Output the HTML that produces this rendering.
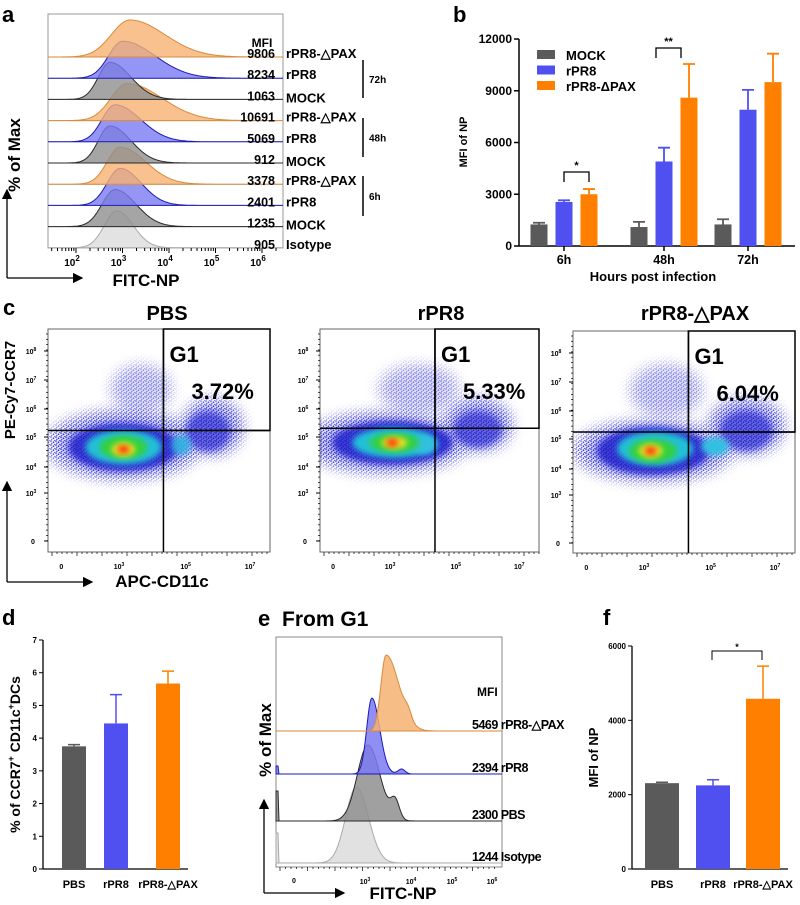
<!DOCTYPE html>
<html><head><meta charset="utf-8"><style>
html,body{margin:0;padding:0;background:#fff;}
svg{display:block;font-family:"Liberation Sans",Arial,sans-serif;}
text{font-weight:bold;}
</style></head><body>
<svg id="fig" width="800" height="905" viewBox="0 0 800 905">
<defs>
<filter id="blur" x="-30%" y="-30%" width="160%" height="160%"><feGaussianBlur stdDeviation="6"/></filter>
<filter id="blur2" x="-30%" y="-30%" width="160%" height="160%"><feGaussianBlur stdDeviation="3"/></filter>
<marker id="arr" markerWidth="8" markerHeight="8" refX="7" refY="4" orient="auto"><path d="M0,0 L8,4 L0,8 z" fill="#000"/></marker>
<pattern id="dots" width="5" height="4" patternUnits="userSpaceOnUse">
<circle cx="1" cy="1" r="0.8" fill="#1010c0"/><circle cx="3.5" cy="2.2" r="0.8" fill="#2828e0"/><circle cx="1.8" cy="3.4" r="0.6" fill="#1a1ad0"/><circle cx="4.4" cy="0.4" r="0.5" fill="#2020c0"/>
</pattern>
</defs>
<g id="pa"></g>
<g id="pb"></g>
<g id="pc"></g>
<g id="pd"></g>
<g id="pe"></g>
<g id="pf"></g>
</svg>
<script>
// ---------- Panel a data ----------
const aMFI = ["9806","8234","1063","10691","5069","912","3378","2401","1235","905"];
const aNames = ["rPR8-△PAX","rPR8","MOCK","rPR8-△PAX","rPR8","MOCK","rPR8-△PAX","rPR8","MOCK","Isotype"];
const aGroup = ["o","b","g","o","b","g","o","b","g","i"];
const aPeakLog = [3.16,3.0,2.73,3.1,2.84,2.73,2.95,2.95,2.84,2.88];
const aSigL = [0.4,0.3,0.25,0.35,0.28,0.25,0.28,0.28,0.28,0.27];
const aSigR = [0.75,0.7,0.45,0.75,0.55,0.45,0.55,0.45,0.45,0.35];
const aTicks = ["2","3","4","5","6"];
// ---------- Panel b data ----------
const bGroups = ["6h","48h","72h"];
const bSeries = ["MOCK","rPR8","rPR8-ΔPAX"];
const bMock = [1250,1100,1250];
const bMockErr = [1350,1400,1550];
const bPR8 = [2550,4900,7900];
const bPR8Err = [2650,5700,9050];
const bPAX = [3000,8600,9500];
const bPAXErr = [3300,10550,11150];
const bTicks = [0,3000,6000,9000,12000];
// ---------- Panel c data ----------
const cTitles = ["PBS","rPR8","rPR8-△PAX"];
const cPercent = ["3.72%","5.33%","6.04%"];
// ---------- Panel d data ----------
const dCats = ["PBS","rPR8","rPR8-△PAX"];
const dVals = [3.75,4.45,5.67];
const dErr = [3.8,5.33,6.05];
const dTicks = [0,1,2,3,4,5,6,7];
// ---------- Panel e data ----------
const eMFI = ["5469","2394","2300","1244"];
const eNames = ["rPR8-△PAX","rPR8","PBS","Isotype"];
const eGroup = ["o","b","g","i"];
const ePeakLog = [3.49,3.16,3.07,2.8];
const eSigL = [0.12,0.12,0.25,0.25];
const eSigR = [0.3,0.18,0.28,0.28];
// ---------- Panel f data ----------
const fCats = ["PBS","rPR8","rPR8-△PAX"];
const fVals = [2310,2250,4580];
const fErr = [2335,2400,5460];
const fTicks = [0,2000,4000,6000];

const NS="http://www.w3.org/2000/svg";
const COL={o:"#ff8000",b:"#5050f0",g:"#5a5a5a"};
const HF={o:["#f6b272","#d98a3a"],b:["#7a7af2","#1a1ab8"],g:["#8f8f8f","#2a2a2a"],i:["#dcdcdc","#aaaaaa"]};
function el(p,tag,a,txt){const e=document.createElementNS(NS,tag);for(const k in a)e.setAttribute(k,a[k]);if(txt!==undefined)e.textContent=txt;p.appendChild(e);return e;}

// ===== Panel a =====
(function(){
const g=document.getElementById('pa');
const L=48,R=283,T=14,B=248;
const xa=l=>76+(l-2)*46.5;
const base=i=>57+i*21.2;
let t=el(g,'text',{x:2,y:22,'font-size':22},'a');

let fr=el(g,'rect',{x:L,y:T,width:R-L,height:B-T,fill:'none',stroke:'#999','stroke-width':1});

for(let i=aMFI.length-1;i>=0;i--){
  const y0=base(i),c=HF[aGroup[i]];
  let d='M'+L+','+y0;
  for(let x=L;x<=R;x+=1){const l=2+(x-76)/46.5;const s=l<aPeakLog[i]?aSigL[i]:aSigR[i];const h=37*Math.exp(-Math.pow((l-aPeakLog[i])/s,2)/2);d+=' L'+x+','+(y0-h).toFixed(1);}
  d+=' L'+R+','+y0+' Z';
  el(g,'line',{x1:L,x2:R,y1:y0,y2:y0,stroke:'#bbb','stroke-width':1});
  let p=el(g,'path',{d:d,fill:c[0],'fill-opacity':0.8,stroke:c[1],'stroke-width':1});
  
  
}
el(g,'text',{x:262,y:47,'font-size':12,'text-anchor':'middle'},'MFI');
for(let i=0;i<aMFI.length;i++){
  let a=el(g,'text',{x:275,y:base(i)+1,'font-size':12.5,'text-anchor':'end'},aMFI[i]);
  
  let b=el(g,'text',{x:286,y:base(i)+(i%3===2?3:1),'font-size':13},aNames[i]);
  
}
[[60,98,'72h'],[118,157,'48h'],[176,216,'6h']].forEach(r=>{
  el(g,'line',{x1:363,x2:363,y1:r[0],y2:r[1],stroke:'#000','stroke-width':1.5});
  let tt=el(g,'text',{x:369,y:(r[0]+r[1])/2+4,'font-size':10},r[2]);
  
});
for(let d=1;d<=6;d++){for(let k=1;k<10;k++){const x=xa(d+Math.log10(k));if(x<L||x>R)continue;el(g,'line',{x1:x,x2:x,y1:B,y2:B+(k===1?5:3),stroke:'#000','stroke-width':1});}}
aTicks.forEach(s=>{const x=xa(+s);let tt=el(g,'text',{x:x-4,y:266,'font-size':10,'text-anchor':'middle'},'10');el(tt,'tspan',{dy:-5,'font-size':8},s);});
let xt=el(g,'text',{x:146,y:286,'font-size':17,'text-anchor':'middle'},'FITC-NP');

let yt=el(g,'text',{x:0,y:0,'font-size':17,'text-anchor':'middle',transform:'translate(20,155) rotate(-90)'},'% of Max');

el(g,'line',{x1:7,y1:278,x2:7,y2:190,stroke:'#000','stroke-width':1.3,'marker-end':'url(#arr)'});
el(g,'line',{x1:7,y1:278,x2:82,y2:278,stroke:'#000','stroke-width':1.3,'marker-end':'url(#arr)'});
})();

// ===== Panel b =====
(function(){
const g=document.getElementById('pb');
const X0=519,Y0=246,YT=39;
const y=v=>Y0-v/12000*(Y0-YT);
const centers=[564,664,748];
el(g,'text',{x:453,y:22,'font-size':22},'b');
el(g,'line',{x1:X0,x2:X0,y1:YT,y2:Y0,stroke:'#000','stroke-width':1.5});
el(g,'line',{x1:X0,x2:795,y1:Y0,y2:Y0,stroke:'#000','stroke-width':1.5});
bTicks.forEach(v=>{el(g,'line',{x1:X0-5,x2:X0,y1:y(v),y2:y(v),stroke:'#000','stroke-width':1.5});
  let t=el(g,'text',{x:X0-7,y:y(v)+4,'font-size':12,'text-anchor':'end'},String(v));});
const series=[[bMock,bMockErr,'g'],[bPR8,bPR8Err,'b'],[bPAX,bPAXErr,'o']];
series.forEach((s,si)=>{s[0].forEach((v,gi)=>{
  const cx=centers[gi]+(si-1)*25;
  const er=el(g,'path',{d:`M${cx},${y(v)} V${y(s[1][gi])} M${cx-6},${y(s[1][gi])} H${cx+6}`,stroke:COL[s[2]],'stroke-width':1.8,fill:'none'});
  
  const r=el(g,'rect',{x:cx-8.5,y:y(v),width:17,height:Y0-y(v),fill:COL[s[2]]});
  
});});
bGroups.forEach((s,i)=>{el(g,'line',{x1:centers[i],x2:centers[i],y1:Y0,y2:Y0+5,stroke:'#000','stroke-width':1.5});
  let t=el(g,'text',{x:centers[i],y:264,'font-size':12.5,'text-anchor':'middle'},s);});
let xt=el(g,'text',{x:653,y:281,'font-size':13,'text-anchor':'middle'},'Hours post infection');
let yt=el(g,'text',{x:0,y:0,'font-size':11,'text-anchor':'middle',transform:'translate(467,142) rotate(-90)'},'MFI of NP');
['g','b','o'].forEach((c,i)=>{const ly=55+i*15.5;
  let r=el(g,'rect',{x:537,y:ly-5,width:18,height:9,fill:COL[c]});
  let t=el(g,'text',{x:566,y:ly+5,'font-size':13},bSeries[i]);});
function sig(x1,x2,yy,lab){el(g,'path',{d:`M${x1},${yy+10} V${yy} H${x2} V${yy+10}`,stroke:'#000','stroke-width':1.3,fill:'none'});el(g,'text',{x:(x1+x2)/2,y:yy-3,'font-size':11,'text-anchor':'middle'},lab);}
sig(564,589,172,'*');sig(656,681,48,'**');
})();

// ===== Panel c =====
(function(){
const g=document.getElementById('pc');
const defs=document.querySelector('defs');
el(g,'text',{x:3,y:315,'font-size':22},'c');
const frames=[[48,329,222,223,0.52,0.455,167],[320,329,219,223,0.525,0.445,441],[573,331,222,222,0.52,0.455,695]];
// dotted (sparse) regions: [relx, rely, rx, ry, opacity]
const sparse=[
 [[0.34,0.52,80,36,1],[0.74,0.44,32,30,1],[0.42,0.27,32,26,0.6]],
 [[0.30,0.51,85,32,1],[0.72,0.43,36,28,1],[0.45,0.27,42,26,0.6]],
 [[0.36,0.54,82,32,1],[0.78,0.43,40,30,1],[0.42,0.27,38,28,0.6]]];
// dense core: [relx, rely, rx, ry, color, opacity]
const cores=[
 [[0.34,0.53,55,24,'#1515c8',0.8],[0.72,0.46,22,20,'#1515c8',0.55],[0.34,0.53,38,17,'#20c0d8',1],[0.6,0.52,10,10,'#30b0e0',0.9],[0.34,0.53,24,12,'#30d040',1],[0.34,0.54,12,7,'#f0e020',1],[0.34,0.54,6,4,'#ff3010',1]],
 [[0.33,0.51,60,22,'#1515c8',0.8],[0.72,0.45,24,18,'#1515c8',0.55],[0.34,0.51,42,15,'#20c0d8',1],[0.48,0.52,12,9,'#30c0e0',1],[0.34,0.51,25,10,'#30d040',1],[0.34,0.51,13,6,'#f0e020',1],[0.33,0.51,6,4,'#ff3010',1]],
 [[0.36,0.54,56,24,'#1515c8',0.8],[0.78,0.45,26,20,'#1515c8',0.55],[0.37,0.53,38,17,'#20c0d8',1],[0.64,0.52,14,9,'#30c0e0',1],[0.36,0.54,24,12,'#30d040',1],[0.35,0.54,12,7,'#f0e020',1],[0.35,0.54,6,4,'#ff3010',1]]];
frames.forEach((f,i)=>{
  const [x0,y0,w,h,gx,gy,tc]=f;
  const sub=el(g,'g',{});
  let t=el(sub,'text',{x:tc,y:320,'font-size':20,'text-anchor':'middle'},cTitles[i]);
  const cid='clip'+i;const cp=el(defs,'clipPath',{id:cid});el(cp,'rect',{x:x0,y:y0,width:w,height:h});
  const mid='mask'+i;const mk=el(defs,'mask',{id:mid,maskUnits:'userSpaceOnUse',x:0,y:0,width:800,height:905});
  sparse[i].forEach(b=>{el(mk,'ellipse',{cx:x0+b[0]*w,cy:y0+b[1]*h,rx:b[2],ry:b[3],fill:'#fff','fill-opacity':b[4],filter:'url(#blur)'});});
  const bg=el(sub,'g',{'clip-path':`url(#${cid})`});
  sparse[i].forEach(b=>{el(bg,'ellipse',{cx:x0+b[0]*w,cy:y0+b[1]*h,rx:b[2]*0.85,ry:b[3]*0.85,fill:'#4848e0','fill-opacity':0.3*b[4],filter:'url(#blur)'});});
  el(bg,'rect',{x:x0,y:y0,width:w,height:h,fill:'url(#dots)',mask:`url(#${mid})`});
  cores[i].forEach(b=>{el(bg,'ellipse',{cx:x0+b[0]*w,cy:y0+b[1]*h,rx:b[2],ry:b[3],fill:b[4],'fill-opacity':b[5],filter:'url(#blur2)'});});
  el(sub,'rect',{x:x0,y:y0,width:w,height:h,fill:'none',stroke:'#666','stroke-width':1});
  const gxp=x0+gx*w,gyp=y0+gy*h;
  el(sub,'line',{x1:gxp,x2:gxp,y1:y0,y2:y0+h,stroke:'#000','stroke-width':1.5});
  el(sub,'line',{x1:x0,x2:x0+w,y1:gyp,y2:gyp,stroke:'#000','stroke-width':1.5});
  let gr=el(sub,'rect',{x:gxp,y:y0,width:x0+w-gxp,height:gyp-y0,fill:'none',stroke:'#000','stroke-width':1.5});
  el(sub,'text',{x:gxp+6,y:y0+33,'font-size':22},'G1');
  let pt=el(sub,'text',{x:gxp+28,y:y0+70,'font-size':22},cPercent[i]);
  const yl=[['8',22],['7',51],['6',80],['5',108],['4',138],['3',164],['0',212]];
  yl.forEach(q=>{const yy=y0+q[1];
    if(q[0]==='0'){el(sub,'text',{x:x0-15,y:yy+3,'font-size':7,'text-anchor':'middle'},'0');}
    else{const tt=el(sub,'text',{x:x0-17,y:yy+3,'font-size':7,'text-anchor':'middle'},'10');el(tt,'tspan',{dy:-3,'font-size':5},q[0]);}
    el(sub,'line',{x1:x0-4,x2:x0,y1:yy,y2:yy,stroke:'#000'});});
  for(let k=0;k<40;k++){const yy=y0+5+k*5.3;el(sub,'line',{x1:x0-2,x2:x0,y1:yy,y2:yy,stroke:'#000','stroke-width':0.7});}
  for(let k=0;k<44;k++){const xx=x0+4+k*5;el(sub,'line',{x1:xx,x2:xx,y1:y0+h,y2:y0+h+(k%5===0?4:2),stroke:'#000','stroke-width':0.7});}
  const xl=[['0',0.06],['3',0.32],['5',0.62],['7',0.91]];
  xl.forEach(q=>{const xx=x0+q[1]*w;if(q[0]==='0')el(sub,'text',{x:xx,y:y0+h+17,'font-size':7,'text-anchor':'middle'},'0');else{const tt=el(sub,'text',{x:xx,y:y0+h+17,'font-size':7,'text-anchor':'middle'},'10');el(tt,'tspan',{dy:-3,'font-size':5},q[0]);}});
});
let yt=el(g,'text',{x:0,y:0,'font-size':15,'text-anchor':'middle',transform:'translate(15,390) rotate(-90)'},'PE-Cy7-CCR7');
let xt=el(g,'text',{x:162,y:587,'font-size':17,'text-anchor':'middle'},'APC-CD11c');
el(g,'line',{x1:7,y1:582,x2:7,y2:482,stroke:'#000','stroke-width':1.3,'marker-end':'url(#arr)'});
el(g,'line',{x1:7,y1:582,x2:92,y2:582,stroke:'#000','stroke-width':1.3,'marker-end':'url(#arr)'});
})();

// ===== Panel d & f (bar charts) =====
function smallBar(id,letter,lx,X0,Y0,YT,vmax,cats,vals,errs,ticks,xs,ytitle,ytx,bw){
  const g=document.getElementById(id);
  const y=v=>Y0-v/vmax*(Y0-YT);
  el(g,'text',{x:lx,y:625,'font-size':22},letter);
  el(g,'line',{x1:X0,x2:X0,y1:YT,y2:Y0,stroke:'#000','stroke-width':1.3});
  el(g,'line',{x1:X0,x2:xs[2]+bw/2+8,y1:Y0,y2:Y0,stroke:'#000','stroke-width':1.3});
  ticks.forEach(v=>{el(g,'line',{x1:X0-4,x2:X0,y1:y(v),y2:y(v),stroke:'#000'});
    let t=el(g,'text',{x:X0-6,y:y(v)+3,'font-size':8,'text-anchor':'end'},String(v));});
  const cs=['g','b','o'];
  vals.forEach((v,i)=>{const cx=xs[i];
    el(g,'path',{d:`M${cx},${y(v)} V${y(errs[i])} M${cx-6},${y(errs[i])} H${cx+6}`,stroke:COL[cs[i]],'stroke-width':1.5,fill:'none'});
    let r=el(g,'rect',{x:cx-bw/2,y:y(v),width:bw,height:Y0-y(v),fill:COL[cs[i]]});
    let t=el(g,'text',{x:cx,y:888,'font-size':11,'text-anchor':'middle'},cats[i]);});
  let yt=el(g,'text',{x:0,y:0,'font-size':13,'text-anchor':'middle',transform:`translate(${ytx},${(Y0+YT)/2}) rotate(-90)`},ytitle);
  return {g,y};
}
(function(){
  const r=smallBar('pd','d',2,43,869,640,7,dCats,dVals,dErr,dTicks,[74,116,168],'',20,24);
  const t=r.g.lastChild;t.textContent='% of CCR7';el(t,'tspan',{dy:-6,'font-size':9},'+');el(t,'tspan',{dy:6},' CD11c');el(t,'tspan',{dy:-6,'font-size':9},'+');el(t,'tspan',{dy:6},'DCs');
  t.setAttribute('font-size','14');
})();
(function(){
  const r=smallBar('pf','f',603,632,869,646,6000,fCats,fVals,fErr,fTicks,[662,713,763],'MFI of NP',598,34);
  el(r.g,'path',{d:`M712,${660} V651 H762 V660`,stroke:'#000','stroke-width':1,fill:'none'});
  el(r.g,'text',{x:737,y:650,'font-size':9,'text-anchor':'middle'},'*');
})();

// ===== Panel e =====
(function(){
const g=document.getElementById('pe');
const L=276,R=502,T=637,B=867;
const bases=[731,774,821,863];
el(g,'text',{x:258,y:626,'font-size':22},'e');
let ti=el(g,'text',{x:282,y:626,'font-size':21},'From G1');
el(g,'rect',{x:L,y:T,width:R-L,height:B-T,fill:'none',stroke:'#888','stroke-width':1});
for(let i=eMFI.length-1;i>=0;i--){
  const y0=bases[i],c=HF[eGroup[i]];
  let d='M'+L+','+y0;
  for(let x=L;x<=R;x++){const l=3+(x-365)/43;const s=l<ePeakLog[i]?eSigL[i]:eSigR[i];let h=76*Math.exp(-Math.pow((l-ePeakLog[i])/s,2)/2);
    if(eGroup[i]==='g')h+=18*Math.exp(-Math.pow((l-3.7)/0.1,2)/2);
    if(eGroup[i]==='o')h+=8*Math.exp(-Math.pow((l-4.0)/0.08,2)/2);
    if(eGroup[i]==='b')h+=5*Math.exp(-Math.pow((l-3.85)/0.08,2)/2);
    if(x<=L+2&&eGroup[i]!=='o')h=Math.max(h,eGroup[i]==='b'?8:30);
    d+=' L'+x+','+(y0-h).toFixed(1);}
  d+=' L'+R+','+y0+' Z';
  let p=el(g,'path',{d:d,fill:c[0],'fill-opacity':0.85,stroke:c[1],'stroke-width':1});
  
}
el(g,'text',{x:477,y:696,'font-size':12,'text-anchor':'start'},'MFI');
eMFI.forEach((m,i)=>{let t=el(g,'text',{x:472,y:bases[i]-2,'font-size':12.5,'letter-spacing':'-0.5'},m+' '+eNames[i]);});
for(let k=0;k<40;k++){const xx=L+4+k*5.5;el(g,'line',{x1:xx,x2:xx,y1:B,y2:B+(k%5===0?4:2),stroke:'#000','stroke-width':0.7});}
el(g,'text',{x:294,y:883,'font-size':7,'text-anchor':'middle'},'0');
[['3',365],['4',411],['5',452],['6',492]].forEach(q=>{const t=el(g,'text',{x:q[1],y:884,'font-size':7,'text-anchor':'middle'},'10');el(t,'tspan',{dy:-3,'font-size':5},q[0]);});
let xt=el(g,'text',{x:403,y:899,'font-size':17,'text-anchor':'middle'},'FITC-NP');
let yt=el(g,'text',{x:0,y:0,'font-size':17,'text-anchor':'middle',transform:'translate(271,740) rotate(-90)'},'% of Max');
el(g,'line',{x1:264,y1:893,x2:264,y2:800,stroke:'#000','stroke-width':1.3,'marker-end':'url(#arr)'});
el(g,'line',{x1:264,y1:893,x2:344,y2:893,stroke:'#000','stroke-width':1.3,'marker-end':'url(#arr)'});
})();
</script>
</body></html>
